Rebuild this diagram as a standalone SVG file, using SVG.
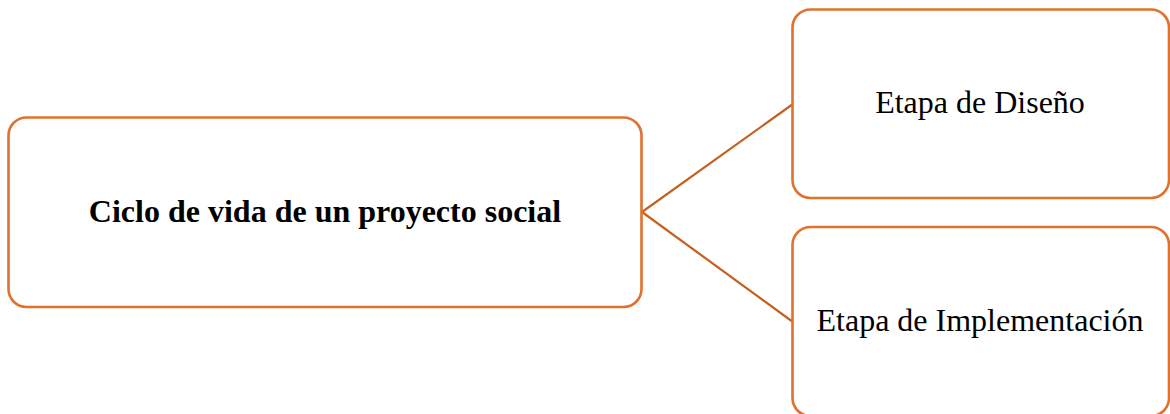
<svg xmlns="http://www.w3.org/2000/svg" width="1170" height="414" viewBox="0 0 1170 414">
<style>
.box{fill:#FFFFFF;stroke:#E0722E;stroke-width:2.6}
.con{stroke:#C5601E;stroke-width:2.2;fill:none}
.t{font-family:"Liberation Serif","Times New Roman",serif;font-size:32px;fill:#000;text-anchor:middle}
.b{font-weight:bold}
</style>
<rect width="1170" height="414" fill="#FFFFFF"/>
<g id="connectors">
<line class="con" x1="642" y1="212" x2="793" y2="104"/>
<line class="con" x1="642" y1="212" x2="793" y2="322"/>
</g>
<g id="node-ciclo">
<rect class="box" x="8.5" y="117.5" width="633" height="189.5" rx="18"/>
<text class="t b" x="325" y="222">Ciclo de vida de un proyecto social</text>
</g>
<g id="node-diseno">
<rect class="box" x="792.5" y="9.5" width="376.5" height="188.5" rx="18"/>
<text class="t" x="980" y="113">Etapa de Diseño</text>
</g>
<g id="node-implementacion">
<rect class="box" x="792.5" y="227" width="376.5" height="189" rx="18"/>
<text class="t" x="980" y="331">Etapa de Implementación</text>
</g>
</svg>
